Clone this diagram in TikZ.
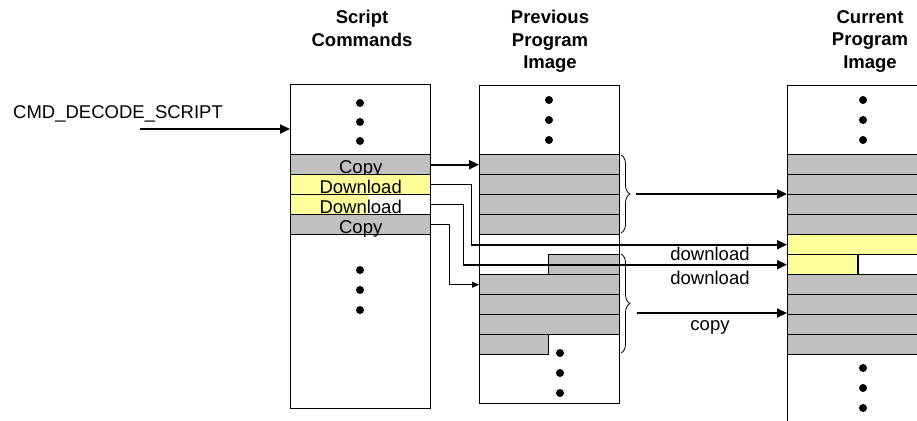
\documentclass[tikz,border=0pt]{standalone}
\usepackage{fontspec}
\setmainfont{Liberation Sans}
\usetikzlibrary{arrows.meta,decorations.pathreplacing}
\definecolor{cellgray}{RGB}{192,192,192}
\definecolor{cellyellow}{RGB}{255,255,153}

\begin{document}
\begin{tikzpicture}[x=1pt,y=-1pt,
	every node/.style={font=\fontsize{18.5}{22.5}\selectfont},
	head/.style={anchor=north,align=center,inner sep=0pt,font=\fontsize{18.5}{22.5}\selectfont\bfseries},
	column/.style={draw,line width=1pt,anchor=north west,inner sep=0pt,minimum width=140pt},
	cell/.style={draw,line width=1.4pt,anchor=north west,inner sep=0pt,minimum height=20pt,minimum width=140pt,text height=18pt,text depth=0pt},
	link/.style={line width=0.8pt},
	flow/.style={line width=2pt,-{Triangle[length=10pt,width=9pt]}},
	thinflow/.style={line width=0.8pt,-{Triangle[length=7pt,width=6pt]}},
	brace/.style={line width=0.8pt,decorate,decoration={brace,amplitude=9pt}}]
		\useasboundingbox (0,0) rectangle (917,420);
		\clip (0,0) rectangle (917,420);

		\node[head] (hscript) at (362,10) {Script\\Commands};
		\node[head] (hprev) at (550,10) {Previous\\Program\\Image};
		\node[head] (hcurr) at (870,10) {Current\\Program\\Image};
		\node[anchor=base west,inner sep=0pt] (cmd) at (13,118) {CMD\_DECODE\_SCRIPT};

		\node[column,minimum height=324pt] (script) at (290,84) {};
		\node[column,minimum height=318pt] (prev) at (479,85) {};
		\node[column,minimum height=360pt] (curr) at (787,85) {};

		\node[cell,fill=cellgray] (sc1) at (290,154) {Copy};
		\node[cell,fill=cellyellow] (sc2) at (290,174) {Download};
		\fill[cellyellow] (290,194) rectangle (368,214);
		\node[cell] (sc3) at (290,194) {Download};
		\node[cell,fill=cellgray] (sc4) at (290,214) {Copy};

		\node[cell,fill=cellgray] (p1) at (479,154) {};
		\node[cell,fill=cellgray] (p2) at (479,174) {};
		\node[cell,fill=cellgray] (p3) at (479,194) {};
		\node[cell,fill=cellgray] (p4) at (479,214) {};
		\node[cell,fill=cellgray,minimum width=71pt] (p0) at (548,254) {};
		\node[cell,fill=cellgray] (p5) at (479,274) {};
		\node[cell,fill=cellgray] (p6) at (479,294) {};
		\node[cell,fill=cellgray] (p7) at (479,314) {};
		\node[cell,fill=cellgray,minimum width=69pt] (p8) at (479,334) {};

		\node[cell,fill=cellgray] (c1) at (787,154) {};
		\node[cell,fill=cellgray] (c2) at (787,174) {};
		\node[cell,fill=cellgray] (c3) at (787,194) {};
		\node[cell,fill=cellgray] (c4) at (787,214) {};
		\node[cell,fill=cellyellow] (c5) at (787,234) {};
		\fill[cellyellow] (787,254) rectangle (858,274);
		\node[cell] (c6) at (787,254) {};
		\node[cell,fill=cellgray] (c7) at (787,274) {};
		\node[cell,fill=cellgray] (c8) at (787,294) {};
		\node[cell,fill=cellgray] (c9) at (787,314) {};
		\node[cell,fill=cellgray] (c10) at (787,334) {};
		\draw[line width=1.4pt] (858,254) -- (858,274);

		\foreach \y in {103,122,141,270,290,310} \fill (360,\y) circle (4pt);
		\foreach \y in {100,120,140} \fill (549,\y) circle (4pt);
		\foreach \y in {353,373,393} \fill (560,\y) circle (4pt);
		\foreach \y in {100,120,140,368,388,408} \fill (863,\y) circle (4pt);

		\draw[brace] (621,155) -- (621,233);
		\draw[brace] (621,254) -- (621,353);

		\coordinate (cmdin) at (140,129);
		\draw[flow] (cmdin) -- (cmdin -| script.west);
		\draw[flow] (sc1.east) -- (sc1.east -| p1.west);
		\coordinate (k2) at (471,0 |- c5.west);
		\draw[link] (sc2.east) -| (k2);
		\draw[flow] (k2) -- (c5.west);
		\coordinate (k3) at (463,0 |- c6.west);
		\draw[link] (sc3.east) -| (k3);
		\draw[flow] (k3) -- (c6.west);
		\coordinate (k4) at (449,0 |- p5.west);
		\draw[thinflow] (sc4.east) -| (k4) -- (p5.west);
		\coordinate (b1) at (636,194);
		\draw[flow] (b1) -- (b1 -| curr.west);
		\coordinate (b2) at (637,313);
		\draw[flow] (b2) -- (b2 -| curr.west);

		\node[anchor=base] (dl1) at (710,260) {download};
		\node[anchor=base] (dl2) at (710,284) {download};
		\node[anchor=base] (cp) at (710,330) {copy};
	\end{tikzpicture}
\end{document}
